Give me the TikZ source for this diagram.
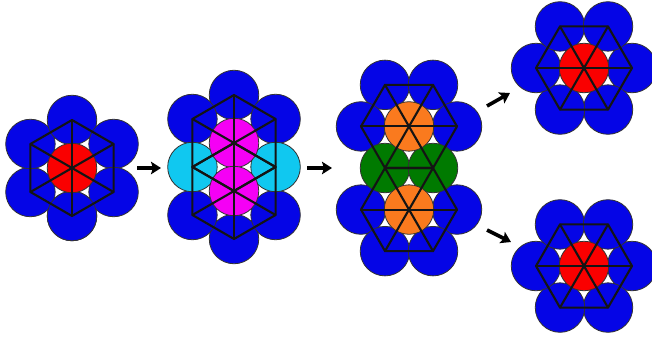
\documentclass[tikz,border=0pt]{standalone}
\usetikzlibrary{arrows.meta,calc}
\definecolor{cblue}{HTML}{0505E6}
\definecolor{cred}{HTML}{FA0000}
\definecolor{cmag}{HTML}{F500F5}
\definecolor{ccyan}{HTML}{10C8F0}
\definecolor{cgreen}{HTML}{007A00}
\definecolor{corange}{HTML}{FA7A1E}
\tikzset{
  ball/.style={circle,draw=black!80,line width=0.8pt,minimum size=49.5pt,inner sep=0pt},
  bl/.style={ball,fill=cblue},
  rd/.style={ball,fill=cred},
  mg/.style={ball,fill=cmag},
  cy/.style={ball,fill=ccyan},
  gr/.style={ball,fill=cgreen},
  og/.style={ball,fill=corange},
  lat/.style={line width=2.1pt,black!92,line join=round,line cap=round},
  flow/.style={line width=3.6pt,-{Stealth[length=10pt,width=12.5pt,inset=2pt]}},
}
% wheel: hexagon with spokes, center #1, start angle #2, radius 48
\newcommand{\hexwheel}[2]{%
  \draw[lat] ($(#1)+(#2:48)$) -- ($(#1)+(#2+60:48)$) -- ($(#1)+(#2+120:48)$) -- ($(#1)+(#2+180:48)$) -- ($(#1)+(#2+240:48)$) -- ($(#1)+(#2+300:48)$) -- cycle;
  \foreach \a in {0,60,...,300} {\draw[lat] (#1) -- ($(#1)+(#2+\a:48)$);}
}
\begin{document}
\begin{tikzpicture}[x=1pt,y=-1pt]
\useasboundingbox (0,0) rectangle (652,337);
% ---------- figure 1 ----------
\coordinate (c1) at (72,168);
\foreach \a [count=\i] in {90,150,...,450} {\node[bl] (f1b\i) at ($(c1)+(\a:48)$) {};}
\node[rd] (f1r) at (c1) {};
\hexwheel{c1}{90}
% ---------- figure 2 ----------
\coordinate (c2) at (234,167);
\node[bl] (f2b1) at ($(c2)+(0,-72)$) {};
\node[bl] (f2b2) at ($(c2)+(-41.57,-48)$) {};
\node[bl] (f2b3) at ($(c2)+(41.57,-48)$) {};
\node[bl] (f2b4) at ($(c2)+(0,72)$) {};
\node[bl] (f2b5) at ($(c2)+(-41.57,48)$) {};
\node[bl] (f2b6) at ($(c2)+(41.57,48)$) {};
\node[cy] (f2c1) at ($(c2)+(-41.57,0)$) {};
\node[cy] (f2c2) at ($(c2)+(41.57,0)$) {};
\node[mg] (f2m1) at ($(c2)+(0,-24)$) {};
\node[mg] (f2m2) at ($(c2)+(0,24)$) {};
\coordinate (w21) at ($(c2)+(0,-24)$);
\coordinate (w22) at ($(c2)+(0,24)$);
\hexwheel{w21}{90}
\hexwheel{w22}{90}
% ---------- figure 3 ----------
\coordinate (c3) at (409,168);
\node[bl] (f3b1) at ($(c3)+(-24,-83.14)$) {};
\node[bl] (f3b2) at ($(c3)+(24,-83.14)$) {};
\node[bl] (f3b3) at ($(c3)+(-48,-41.57)$) {};
\node[bl] (f3b4) at ($(c3)+(48,-41.57)$) {};
\node[bl] (f3b5) at ($(c3)+(-48,41.57)$) {};
\node[bl] (f3b6) at ($(c3)+(48,41.57)$) {};
\node[bl] (f3b7) at ($(c3)+(-24,83.14)$) {};
\node[bl] (f3b8) at ($(c3)+(24,83.14)$) {};
\node[gr] (f3g1) at ($(c3)+(-24,0)$) {};
\node[gr] (f3g2) at ($(c3)+(24,0)$) {};
\node[og] (f3o1) at ($(c3)+(0,-41.57)$) {};
\node[og] (f3o2) at ($(c3)+(0,41.57)$) {};
\coordinate (w31) at ($(c3)+(0,-41.57)$);
\coordinate (w32) at ($(c3)+(0,41.57)$);
\hexwheel{w31}{0}
\hexwheel{w32}{0}
% ---------- figure 4 ----------
\coordinate (c4) at (584,68);
\foreach \a [count=\i] in {0,60,...,300} {\node[bl] (f4b\i) at ($(c4)+(\a:48)$) {};}
\node[rd] (f4r) at (c4) {};
\hexwheel{c4}{0}
% ---------- figure 5 ----------
\coordinate (c5) at (584,266);
\foreach \a [count=\i] in {0,60,...,300} {\node[bl] (f5b\i) at ($(c5)+(\a:48)$) {};}
\node[rd] (f5r) at (c5) {};
\hexwheel{c5}{0}
% ---------- arrows ----------
\coordinate (a1s) at (137,168); \coordinate (a1e) at (161,168);
\coordinate (a2s) at (307,168); \coordinate (a2e) at (332,168);
\coordinate (a3s) at (487,106); \coordinate (a3e) at (510,93);
\coordinate (a4s) at (487,230); \coordinate (a4e) at (511,242);
\draw[flow] (a1s) -- (a1e);
\draw[flow] (a2s) -- (a2e);
\draw[flow] (a3s) -- (a3e);
\draw[flow] (a4s) -- (a4e);
\end{tikzpicture}
\end{document}
